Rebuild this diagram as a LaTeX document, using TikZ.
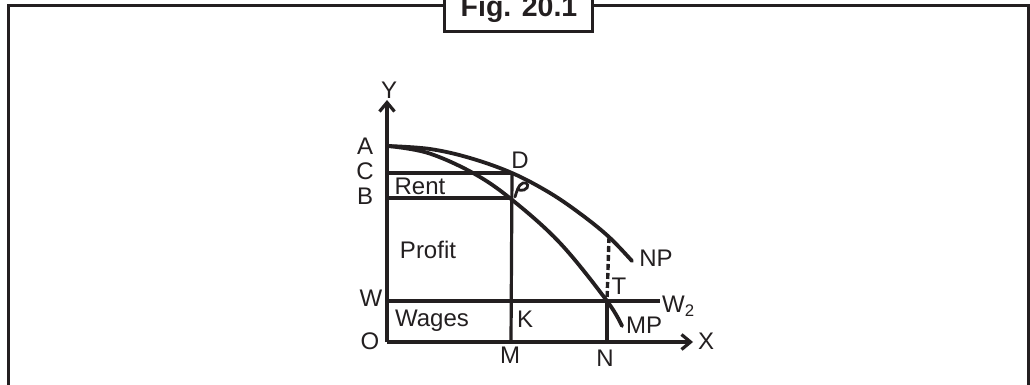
\documentclass[tikz,border=0pt]{standalone}
\usepackage{fontspec}
\setmainfont{Liberation Sans}
\usetikzlibrary{arrows.meta}
\definecolor{ink}{HTML}{231F20}
\begin{document}
\begin{tikzpicture}[x=1pt,y=-1pt,
  lbl/.style={font=\fontsize{24}{27}\selectfont, text=ink, inner sep=0pt},
  frameline/.style={draw=ink, line width=3pt},
  axis/.style={draw=ink, line width=3.6pt, -{Straight Barb[length=9pt,width=15pt,line width=3.2pt]}},
  curve/.style={draw=ink, line width=3.8pt, line cap=round},
  guide/.style={draw=ink, line width=3.2pt},
  dashguide/.style={draw=ink, line width=3.4pt, dash pattern=on 6pt off 3pt}]
\useasboundingbox (0,0) rectangle (1030,385);
% outer frame
\coordinate (FLb) at (8,390);
\coordinate (FLt) at (8,6);
\coordinate (FRt) at (1028,6);
\coordinate (FRb) at (1028,390);
\draw[frameline] (FLb) -- (FLt) -- (FRt) -- (FRb);
% title box
\coordinate (TBl) at (444,-10);
\coordinate (TBr) at (592,-10);
\filldraw[frameline, fill=white] (TBl) -- (444,32) -- (592,32) -- (TBr);
\node[font=\fontsize{28.5}{30}\selectfont\bfseries, text=ink, inner sep=0pt, anchor=base] (title) at (519,17) {Fig. 20.1};
% key points
\coordinate (O) at (387,342);
\coordinate (Ytop) at (387,100);
\coordinate (Xend) at (693,342);
\coordinate (A) at (388,146);
\coordinate (C) at (387,173);
\coordinate (D) at (512,173);
\coordinate (B) at (387,198);
\coordinate (E) at (511,198);
\coordinate (W) at (387,301);
\coordinate (K) at (511,301);
\coordinate (T) at (607,301);
\coordinate (W2) at (660,301);
\coordinate (M) at (511,342);
\coordinate (N) at (607,342);
\coordinate (NPt) at (609,237);
% axes
\draw[axis] (O) -- (Ytop);
\draw[axis] (O) -- (Xend);
% guide lines
\draw[guide] (C) -- (D);
\draw[guide] (B) -- (E);
\draw[guide] (D) -- (M);
\draw[guide] (W) -- (W2);
\draw[guide] (T) -- (N);
\draw[dashguide] (NPt) -- (T);
% curves
\draw[curve] plot[smooth, tension=0.6] coordinates {(388,146) (430,149) (470,158) (512,173) (550,193) (582,215) (609,237) (632,261)};
\draw[curve] plot[smooth, tension=0.6] coordinates {(388,146) (428,153) (473,173) (511,199) (560,243) (607,301) (622,326)};
% small curl near D
\draw[draw=ink, line width=2.8pt, line cap=round] (515,197) .. controls (517,191) and (518,185) .. (523,183) .. controls (528,181) and (530,188) .. (524,190) .. controls (521,191) and (519,190) .. (518,189);
% labels
\node[lbl] (lY) at (389,90) {Y};
\node[lbl] (lA) at (365,146) {A};
\node[lbl] (lC) at (365,171) {C};
\node[lbl] (lB) at (365,196) {B};
\node[lbl] (lD) at (520,160) {D};
\node[lbl] (lRent) at (420,186) {Rent};
\node[lbl] (lProfit) at (428,250) {Profit};
\node[lbl] (lW) at (371,298) {W};
\node[lbl] (lWages) at (432,321) {Wages};
\node[lbl] (lK) at (525,319) {K};
\node[lbl] (lO) at (370,341) {O};
\node[lbl] (lM) at (510,355) {M};
\node[lbl] (lN) at (605,358) {N};
\node[lbl] (lX) at (706,341) {X};
\node[lbl] (lT) at (619,286) {T};
\node[lbl] (lNP) at (656,258) {NP};
\node[lbl] (lMP) at (644,325) {MP};
\node[lbl, anchor=west] (lW2) at (662,306) {W\textsubscript{2}};
\end{tikzpicture}
\end{document}
